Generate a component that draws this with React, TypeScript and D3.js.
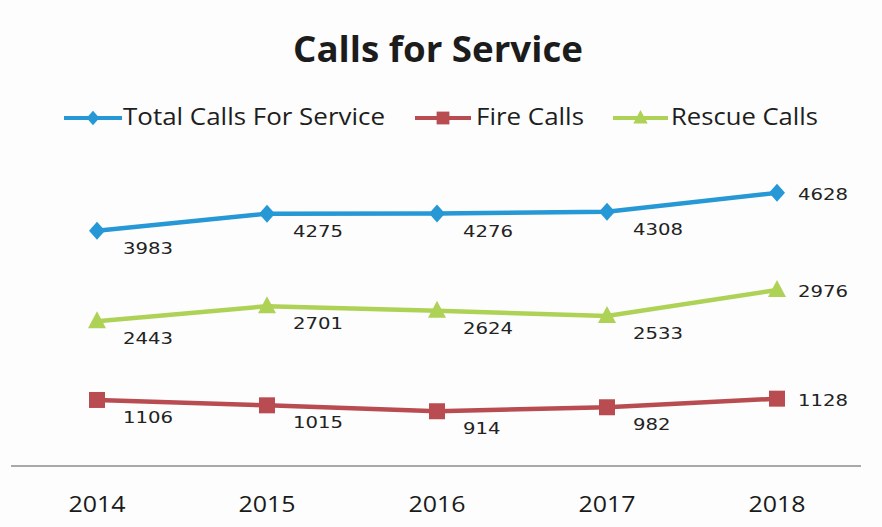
import React from "react";
import * as d3 from "d3";

const years = ["2014", "2015", "2016", "2017", "2018"];
const totalCalls = [3983, 4275, 4276, 4308, 4628];
const fireCalls = [1106, 1015, 914, 982, 1128];
const rescueCalls = [2443, 2701, 2624, 2533, 2976];
const seriesNames = ["Total Calls For Service", "Fire Calls", "Rescue Calls"];
const titleText = "Calls for Service";

const W = 882;
const H = 527;
const BLUE = "#2698d6";
const RED = "#b84c50";
const GREEN = "#aed256";
const FONT = "'Open Sans', 'Noto Sans', sans-serif";
const LABEL_FONT = "'DejaVu Sans', Verdana, sans-serif";

type Kind = "diamond" | "square" | "triangle";

function markerPath(kind: Kind, cx: number, cy: number): string {
  const p = d3.path();
  if (kind === "diamond") {
    p.moveTo(cx, cy - 9);
    p.lineTo(cx + 8, cy);
    p.lineTo(cx, cy + 9);
    p.lineTo(cx - 8, cy);
    p.closePath();
  } else if (kind === "square") {
    p.rect(cx - 8, cy - 8, 16, 16);
  } else {
    p.moveTo(cx, cy - 10);
    p.lineTo(cx + 9, cy + 7);
    p.lineTo(cx - 9, cy + 7);
    p.closePath();
  }
  return p.toString();
}

export default function App() {
  const x = d3.scaleBand<string>().domain(years).range([12, 862]);
  const cx = (yr: string) => (x(yr) as number) + x.bandwidth() / 2;
  const y = d3.scaleLinear().domain([0, 5000]).range([465, 171]);

  const series = [
    { name: seriesNames[0], values: totalCalls, color: BLUE, kind: "diamond" as Kind },
    { name: seriesNames[2], values: rescueCalls, color: GREEN, kind: "triangle" as Kind },
    { name: seriesNames[1], values: fireCalls, color: RED, kind: "square" as Kind },
  ];

  const line = d3
    .line<number>()
    .x((_, i) => cx(years[i]))
    .y((v) => y(v));

  const legendItems = [
    { name: seriesNames[0], color: BLUE, kind: "diamond" as Kind, x0: 64, x1: 122, tx: 123, tw: 262 },
    { name: seriesNames[1], color: RED, kind: "square" as Kind, x0: 415, x1: 471, tx: 476, tw: 108 },
    { name: seriesNames[2], color: GREEN, kind: "triangle" as Kind, x0: 613, x1: 668, tx: 671, tw: 147 },
  ];

  return (
    <svg
      width={W}
      height={H}
      style={{ position: "absolute", left: 0, top: 0, background: "#fff" }}
    >
      <rect x={0} y={0} width={W} height={H} fill="#fdfdfd" />
      <text
        x={438}
        y={62}
        textAnchor="middle"
        fontFamily={FONT}
        fontWeight="bold"
        fontSize={36}
        fill="#1c1c1c"
        textLength={290}
        lengthAdjust="spacingAndGlyphs"
      >
        {titleText}
      </text>

      {legendItems.map((it) => (
        <g key={it.name}>
          <line x1={it.x0} x2={it.x1} y1={118} y2={118} stroke={it.color} strokeWidth={4} />
          <path
            d={markerPath(it.kind, (it.x0 + it.x1) / 2, 118)}
            fill={it.color}
            transform={`translate(${((it.x0 + it.x1) / 2) * 0.2}, ${118 * 0.2}) scale(0.8)`}
          />
          <text
            x={it.tx}
            y={125}
            fontFamily={FONT}
            fontSize={23}
            fill="#1e1e1e"
            textLength={it.tw}
            lengthAdjust="spacingAndGlyphs"
          >
            {it.name}
          </text>
        </g>
      ))}

      <line x1={11} x2={861} y1={466} y2={466} stroke="#555" strokeWidth={1} />

      {years.map((yr) => (
        <text
          key={yr}
          x={cx(yr)}
          y={512}
          textAnchor="middle"
          fontFamily={FONT}
          fontSize={22}
          fill="#1a1a1a"
          textLength={57}
          lengthAdjust="spacingAndGlyphs"
        >
          {yr}
        </text>
      ))}

      {series.map((s) => (
        <g key={s.name}>
          <path d={line(s.values) || ""} fill="none" stroke={s.color} strokeWidth={4.5} />
          {s.values.map((v, i) => (
            <path key={i} d={markerPath(s.kind, cx(years[i]), y(v))} fill={s.color} />
          ))}
          {s.values.map((v, i) => {
            const last = i === years.length - 1;
            const px = cx(years[i]);
            const py = y(v);
            const str = String(v);
            return (
              <text
                key={"l" + i}
                x={px + (last ? 21 : 26)}
                y={py + (last ? 7 : 23)}
                fontFamily={LABEL_FONT}
                fontSize={16}
                fill="#222"
                textLength={str.length * 12.5}
                lengthAdjust="spacingAndGlyphs"
              >
                {str}
              </text>
            );
          })}
        </g>
      ))}
    </svg>
  );
}
